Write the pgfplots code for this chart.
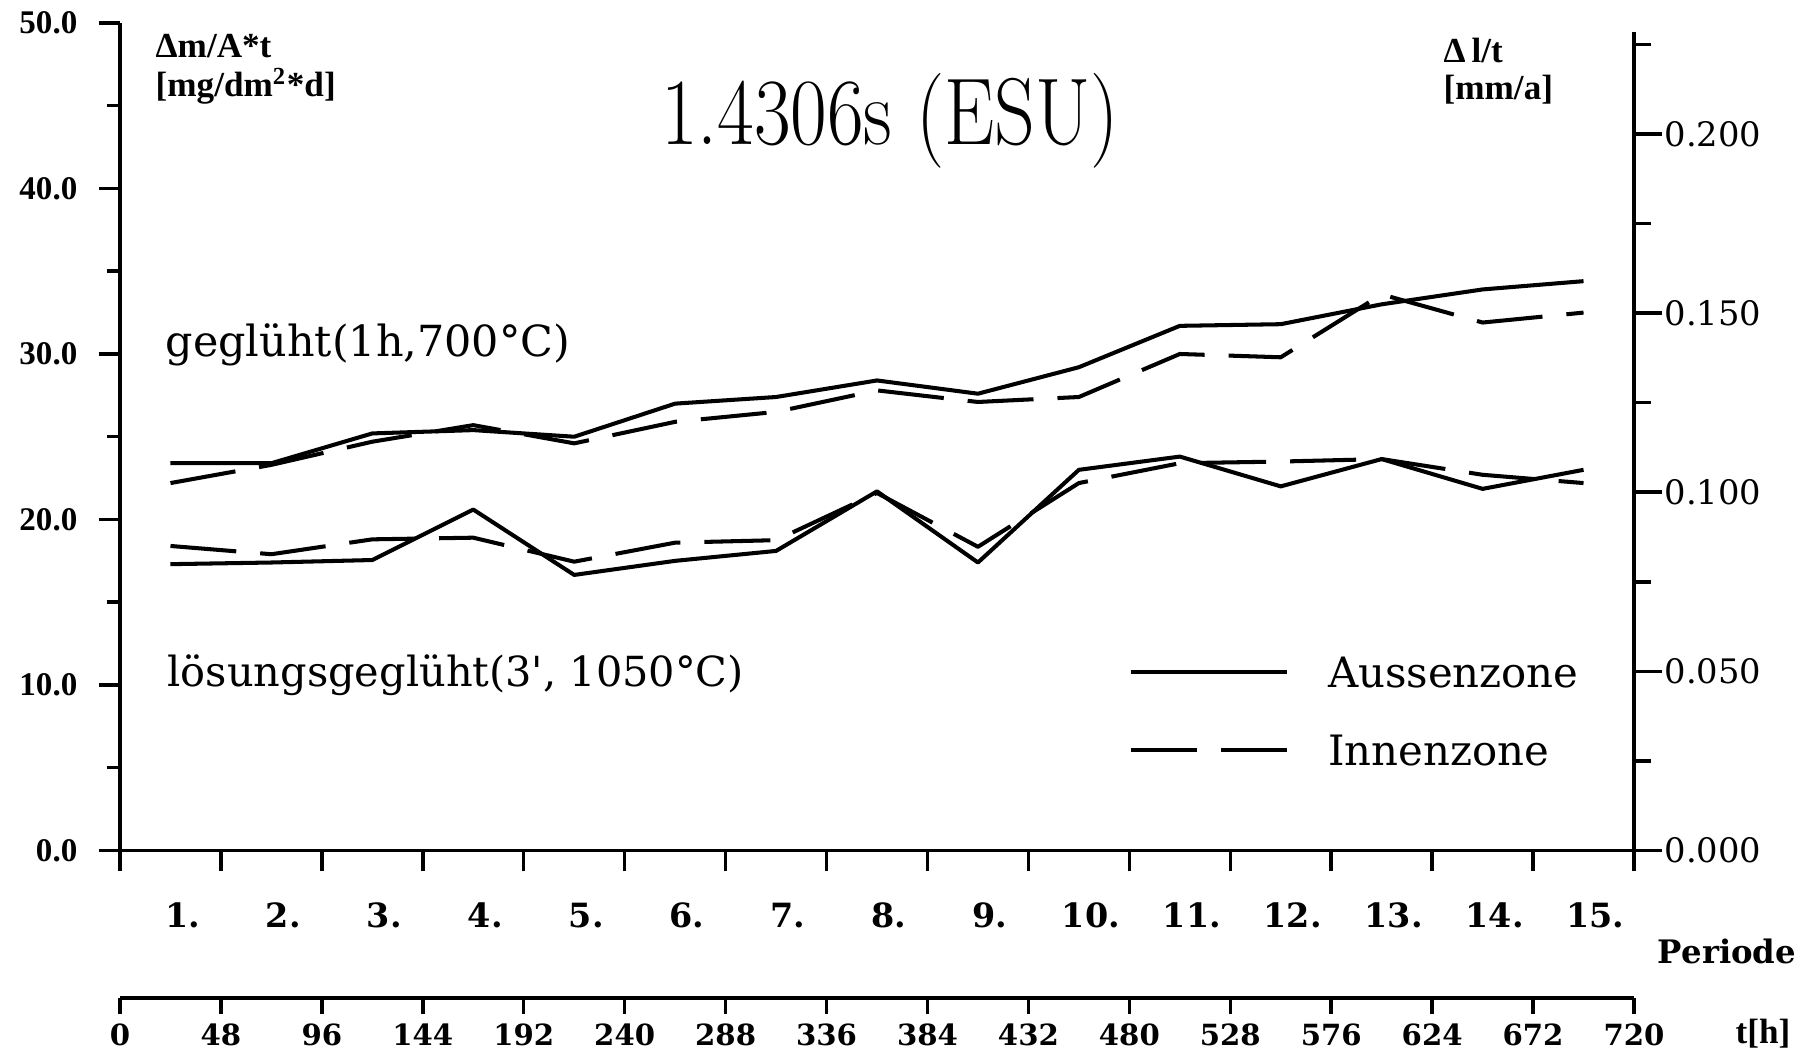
\documentclass[border=0pt]{standalone}
\usepackage{pgfplots}
\pgfplotsset{compat=1.18}
\usepackage{pgfplotstable}
\usepackage{fontspec}
\newfontfamily\dejavu{DejaVu Serif}
\newfontfamily\dejavuc{DejaVu Serif Condensed}
\newfontfamily\libser{Liberation Serif}
\usetikzlibrary{calc}

\pgfplotstableread{
h   aus1  inn1  aus2   inn2
24  23.4  22.2  17.3   18.4
72  23.4  23.3  17.4   17.9
120 25.2  24.7  17.55  18.8
168 25.4  25.7  20.6   18.9
216 25.0  24.6  16.65  17.45
264 27.0  25.9  17.5   18.6
312 27.4  26.5  18.1   18.75
360 28.4  27.8  21.7   21.6
408 27.6  27.1  17.4   18.35
456 29.2  27.4  23.0   22.2
504 31.7  30.0  23.8   23.4
552 31.8  29.8  22.0   23.5
600 33.0  33.6  23.65  23.65
648 33.9  31.9  21.85  22.7
696 34.4  32.5  23.0   22.2
}\data

\begin{document}
\begin{tikzpicture}
\pgfplotsset{every axis/.append style={scale only axis, width=151.4mm, height=82.75mm, xmin=0, xmax=720, clip=false}}
\begin{axis}[name=ax, ymin=0, ymax=50,
  axis x line*=bottom, axis y line*=left,
  axis line style={-, line width=1pt},
  every tick/.style={line width=1pt, black},
  tick align=outside, major tick length=2.1mm, minor tick length=1.3mm,
  xtick={0,48,...,720}, x tick label as interval,
  xticklabels={1.,2.,3.,4.,5.,6.,7.,8.,9.,10.,11.,12.,13.,14.,15.},
  xticklabel style={font=\dejavu\bfseries\fontsize{9.5}{10}\selectfont, inner sep=0pt, anchor=north, yshift=-3.1mm, xshift=1.2mm},
  ytick={0,10,...,50}, minor ytick={5,15,...,45},
  /pgf/number format/assume math mode=true,
  scaled y ticks=false,
  yticklabel style={font=\libser\bfseries\fontsize{9.4}{10}\selectfont, inner sep=0pt, anchor=east, xshift=-2.1mm,
    /pgf/number format/fixed, /pgf/number format/fixed zerofill, /pgf/number format/precision=1},
  legend style={at={(axis cs:479.5,11.78)}, anchor=north west, draw=none, fill=none, inner sep=0pt,
    font=\dejavu\fontsize{11.9}{13}\selectfont, row sep=4.7mm, column sep=3.9mm,
    nodes={inner sep=0pt, text height=3.1mm, text depth=0pt}},
  legend cell align=left,
  legend image code/.code={\draw[#1] (0mm,0mm) -- (15.6mm,0mm);},
]
\addplot[black, line width=1.15pt, line join=round] table[x=h,y=aus1]{\data};
\addlegendentry{Aussenzone}
\addplot[black, line width=1.15pt, line join=round, dash pattern=on 6.6mm off 2.4mm] table[x=h,y=inn1]{\data};
\addlegendentry{Innenzone}
\addplot[black, line width=1.15pt, line join=round, forget plot] table[x=h,y=aus2]{\data};
\addplot[black, line width=1.15pt, line join=round, dash pattern=on 6.6mm off 2.4mm, forget plot] table[x=h,y=inn2]{\data};
\end{axis}

\begin{axis}[at={(ax.south west)}, anchor=south west, ymin=0, ymax=0.231,
  axis x line=none, axis y line*=right,
  y axis line style={draw=none},
  every tick/.style={line width=1pt, black},
  tick align=outside, major tick length=2.8mm, minor tick length=1.7mm,
  ytick={0,0.05,0.1,0.15,0.2}, minor ytick={0.025,0.075,0.125,0.175,0.225},
  scaled y ticks=false,
  /pgf/number format/assume math mode=true,
  yticklabel style={font=\dejavu\fontsize{9.6}{10}\selectfont, inner sep=0pt, anchor=west, xshift=0.2mm,
    /pgf/number format/fixed, /pgf/number format/fixed zerofill, /pgf/number format/precision=3},
]
\draw[line width=1pt] (axis cs:720,0) -- (axis cs:720,0.2285);
\end{axis}

\begin{axis}[at={($(ax.south west)+(0,-14.75mm)$)}, anchor=south west, height=5mm, ymin=0, ymax=1,
  axis x line*=bottom, axis y line=none,
  axis line style={-, line width=1pt},
  every tick/.style={line width=1pt, black},
  tick align=outside, major tick length=1.6mm,
  xtick={0,48,...,720},
  xticklabels={0,48,96,144,192,240,288,336,384,432,480,528,576,624,672,720},
  xticklabel style={font=\dejavu\bfseries\fontsize{8.3}{10}\selectfont, inner sep=0pt, anchor=north, yshift=-0.9mm},
]
\end{axis}

\node[anchor=base, inner sep=0pt] at ($(ax.south west)+(77mm,70.55mm)$) {\scalebox{0.84}[1]{\fontsize{27}{30}\selectfont 1.4306s (ESU)}};
\node[anchor=base west, inner sep=0pt, font=\libser\bfseries\fontsize{10}{12}\selectfont] at ($(ax.south west)+(3.5mm,79.25mm)$) {Δm/A*t};
\node[anchor=base west, inner sep=0pt, font=\libser\bfseries\fontsize{10}{12}\selectfont] at ($(ax.south west)+(3.5mm,75.35mm)$) {[mg/dm\textsuperscript{2}*d]};
\node[anchor=base west, inner sep=0pt, font=\libser\bfseries\fontsize{10}{12}\selectfont] at ($(ax.south west)+(132.3mm,78.75mm)$) {Δ\,l/t};
\node[anchor=base west, inner sep=0pt, font=\libser\bfseries\fontsize{10}{12}\selectfont] at ($(ax.south west)+(132.3mm,75.05mm)$) {[mm/a]};
\node[anchor=base west, inner sep=0pt, font=\dejavu\fontsize{12.2}{14}\selectfont] at ($(ax.south west)+(4.5mm,49.35mm)$) {geglüht(1h,700°C)};
\node[anchor=base west, inner sep=0pt, font=\dejavu\fontsize{11.8}{14}\selectfont] at ($(ax.south west)+(4.7mm,16.35mm)$) {lösungsgeglüht(3', 1050°C)};
\node[anchor=center, inner sep=0pt, font=\dejavu\bfseries\fontsize{9.2}{11}\selectfont] at ($(ax.south west)+(160.7mm,-10.05mm)$) {Periode};
\node[anchor=center, inner sep=0pt, font=\libser\bfseries\fontsize{10}{11}\selectfont] at ($(ax.south west)+(164.3mm,-18.35mm)$) {t[h]};

\pgfresetboundingbox
\path ($(ax.south west)+(-12mm,-20.45mm)$) rectangle ($(ax.north east)+(17.3mm,2.3mm)$);
\end{tikzpicture}
\end{document}
